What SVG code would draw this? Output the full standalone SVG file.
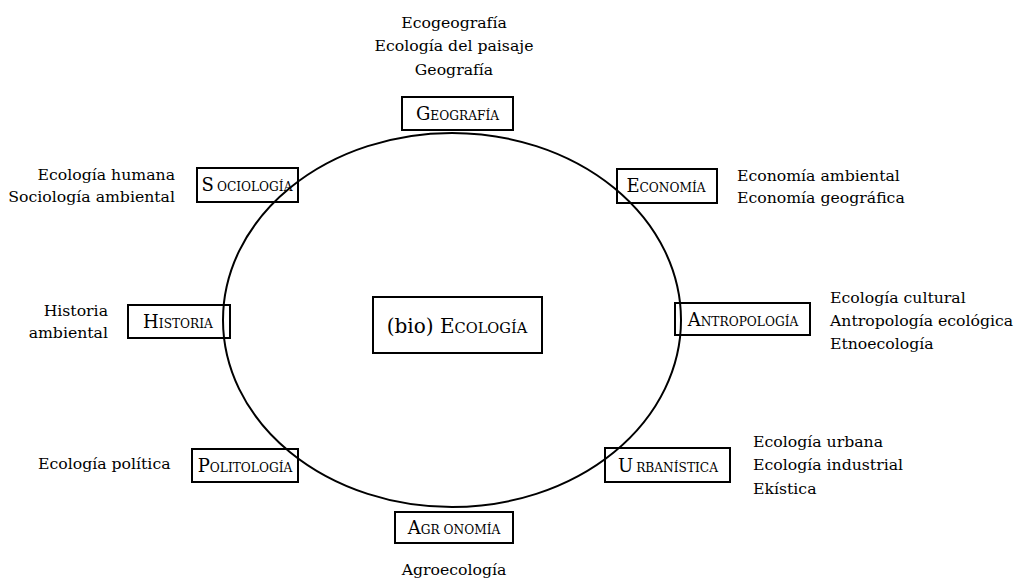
<svg xmlns="http://www.w3.org/2000/svg" width="1020" height="582" viewBox="0 0 1020 582">
<style>
text{font-family:"DejaVu Serif","Liberation Serif",serif;fill:#000}
.lbl{font-size:15.7px}
.big{font-size:18px}
.sm{font-size:12.2px}
.box{fill:none;stroke:#000;stroke-width:2}
.mid{text-anchor:middle}
.end{text-anchor:end}
</style>
<rect width="1020" height="582" fill="#fff"/>
<g id="connectors">
<ellipse cx="452" cy="320" rx="229" ry="187" fill="none" stroke="#000" stroke-width="2"/>
</g>
<g id="n-center">
<rect class="box" x="373" y="297" width="169" height="56"/>
<text class="mid" x="457" y="333"><tspan style="font-size:20px">(bio) E</tspan><tspan style="font-size:14.6px">COLOGÍA</tspan></text>
</g>
<g id="n-geografia">
<rect class="box" x="402" y="97" width="111" height="33"/>
<text class="mid" x="457.5" y="120"><tspan class="big">G</tspan><tspan class="sm">EOGRAFÍA</tspan></text>
<text class="lbl mid" x="454" y="28">Ecogeografía</text>
<text class="lbl mid" x="454" y="51">Ecología del paisaje</text>
<text class="lbl mid" x="454" y="75">Geografía</text>
</g>
<g id="n-sociologia">
<rect class="box" x="197" y="168" width="101" height="34"/>
<text class="mid" x="247" y="191"><tspan class="big">S</tspan><tspan class="sm" dx="3">OCIOLOGÍA</tspan></text>
<text class="lbl end" x="175" y="180">Ecología humana</text>
<text class="lbl end" x="175" y="202">Sociología ambiental</text>
</g>
<g id="n-economia">
<rect class="box" x="617" y="169" width="100" height="34"/>
<text class="mid" x="666" y="192"><tspan class="big">E</tspan><tspan class="sm">CONOMÍA</tspan></text>
<text class="lbl" x="737" y="181">Economía ambiental</text>
<text class="lbl" x="737" y="203">Economía geográfica</text>
</g>
<g id="n-historia">
<rect class="box" x="128" y="305" width="102" height="33"/>
<text class="mid" x="178" y="328"><tspan class="big">H</tspan><tspan class="sm">ISTORIA</tspan></text>
<text class="lbl end" x="108" y="316">Historia</text>
<text class="lbl end" x="108" y="338">ambiental</text>
</g>
<g id="n-antropologia">
<rect class="box" x="675" y="303" width="135" height="32"/>
<text class="mid" x="743" y="326"><tspan class="big">A</tspan><tspan class="sm">NTROPOLOGÍA</tspan></text>
<text class="lbl" x="830" y="303">Ecología cultural</text>
<text class="lbl" x="830" y="326">Antropología ecológica</text>
<text class="lbl" x="830" y="349">Etnoecología</text>
</g>
<g id="n-politologia">
<rect class="box" x="192" y="449" width="106" height="33"/>
<text class="mid" x="245" y="472"><tspan class="big">P</tspan><tspan class="sm">OLITOLOGÍA</tspan></text>
<text class="lbl" x="38" y="469">Ecología política</text>
</g>
<g id="n-urbanistica">
<rect class="box" x="605" y="448" width="125" height="34"/>
<text class="mid" x="668" y="472"><tspan class="big">U</tspan><tspan class="sm" dx="3">RBANÍSTICA</tspan></text>
<text class="lbl" x="753" y="447">Ecología urbana</text>
<text class="lbl" x="753" y="470">Ecología industrial</text>
<text class="lbl" x="753" y="494">Ekística</text>
</g>
<g id="n-agronomia">
<rect class="box" x="395" y="512" width="118" height="31"/>
<text class="mid" x="454" y="534"><tspan class="big">A</tspan><tspan class="sm">GR</tspan><tspan class="sm" dx="4">ONOMÍA</tspan></text>
<text class="lbl mid" x="454" y="575">Agroecología</text>
</g>
</svg>
